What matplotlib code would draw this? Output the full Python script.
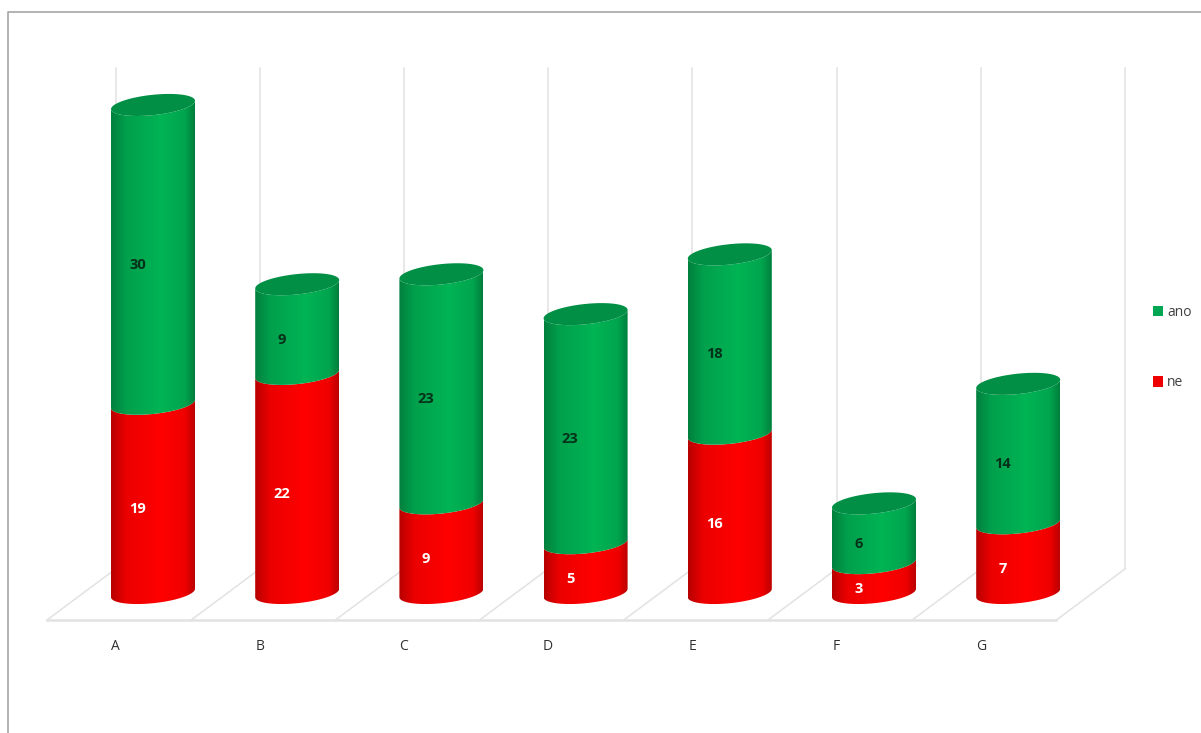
import matplotlib
matplotlib.use('Agg')
import matplotlib.pyplot as plt
import numpy as np
from matplotlib.colors import LinearSegmentedColormap
from matplotlib.lines import Line2D
from matplotlib.patches import Patch, Polygon

categories = ['A', 'B', 'C', 'D', 'E', 'F', 'G']
ne = [19, 22, 9, 5, 16, 3, 7]
ano = [30, 9, 23, 23, 18, 6, 14]

W, H = 1201, 733
X0, DX = 153.0, 144.2    # pixel of first category, pixels per category
Y0, DY = 593.0, 9.96     # pixel of value 0, pixels per unit

plt.rcParams['font.family'] = ['Open Sans', 'DejaVu Sans']

fig = plt.figure(figsize=(W / 100, H / 100), dpi=100)
ax = fig.add_axes([0, 0, 1, 1])
ax.axis('off')

# sizes of the fake 3d, in axis units
half_w = 42.0 / DX
tilt = 4.2 / DY
minor = 10.2 / DY
back_off = -37.5 / DX
front_off = -106 / DX
floor_front = -27 / DY
floor_back = 24 / DY
wall_top = 525 / DY

grid_col = '#e2e2e2'
n = len(categories)

# back wall and floor
for i in range(n + 1):
    ax.plot([i + back_off] * 2, [floor_back, wall_top], color=grid_col, lw=1.1, zorder=1)
    ax.plot([i + front_off, i + back_off], [floor_front, floor_back], color=grid_col, lw=1.1, zorder=1)
ax.plot([front_off, n + front_off], [floor_front, floor_front], color=grid_col, lw=1.8, zorder=1)

green_cm = LinearSegmentedColormap.from_list('g', [(0, '#00803d'), (0.18, '#00a04c'), (0.6, '#00b454'), (0.88, '#00a54e'), (1, '#007f3d')])
red_cm = LinearSegmentedColormap.from_list('r', [(0, '#b80000'), (0.18, '#ec0000'), (0.6, '#ff0000'), (0.88, '#f00000'), (1, '#bc0000')])
grad = np.linspace(0, 1, 128).reshape(1, -1)

t_front = np.linspace(np.pi, 2 * np.pi, 60)
t_all = np.linspace(0, 2 * np.pi, 120)


def arc(xc, yc, t):
    return np.column_stack([xc + half_w * np.cos(t), yc + minor * np.sin(t) + tilt * np.cos(t)])


def segment(xc, y1, y2, cmap, z):
    low = arc(xc, y1, t_front)
    high = arc(xc, y2, t_front)[::-1]
    poly = Polygon(np.vstack([low, high]), closed=True, fc='none', ec='none', transform=ax.transData)
    ax.add_patch(poly)
    im = ax.imshow(grad, cmap=cmap, aspect='auto', zorder=z,
                   extent=[xc - half_w, xc + half_w, y1 - 2, y2 + 2])
    im.set_clip_path(poly)


for i in range(n):
    z = 3 + i
    total = ne[i] + ano[i]
    segment(i, 0, ne[i], red_cm, z)
    segment(i, ne[i], total, green_cm, z + 0.1)
    ax.add_patch(Polygon(arc(i, total, t_all), closed=True, fc='#008f45', ec='none', zorder=z + 0.2))
    ax.text(i - 15.5 / DX, ne[i] / 2 - 10.5 / DY, str(ne[i]), color='white', fontsize=10.5, fontweight='bold',
            ha='center', va='center', zorder=20)
    ax.text(i - 15.5 / DX, ne[i] + ano[i] / 2 - 10.5 / DY, str(ano[i]), color='#06301a', fontsize=10.5, fontweight='bold',
            ha='center', va='center', zorder=20)
    ax.text(i + back_off, floor_front - 27 / DY, categories[i], color='#303030', fontsize=10,
            ha='center', va='center', zorder=20)

ax.set_xlim(-X0 / DX, (W - X0) / DX)
ax.set_ylim((Y0 - H) / DY, Y0 / DY)

handles = [Patch(fc='#00a651', ec='none', label='ano'), Patch(fc='#ee0000', ec='none', label='ne')]
fig.legend(handles=handles, loc='upper left', bbox_to_anchor=(1150 / W, 1 - 302 / H), frameon=False,
           fontsize=10, labelcolor='#404040', labelspacing=4.0, handlelength=0.75, handleheight=0.75,
           handletextpad=0.3, borderpad=0.2, borderaxespad=0)

# image border
fig.add_artist(Line2D([8 / W, 8 / W, 1], [0, 1 - 12 / H, 1 - 12 / H], color='#a6a6a6', lw=1.2))

fig.savefig('out.png', dpi=100)
